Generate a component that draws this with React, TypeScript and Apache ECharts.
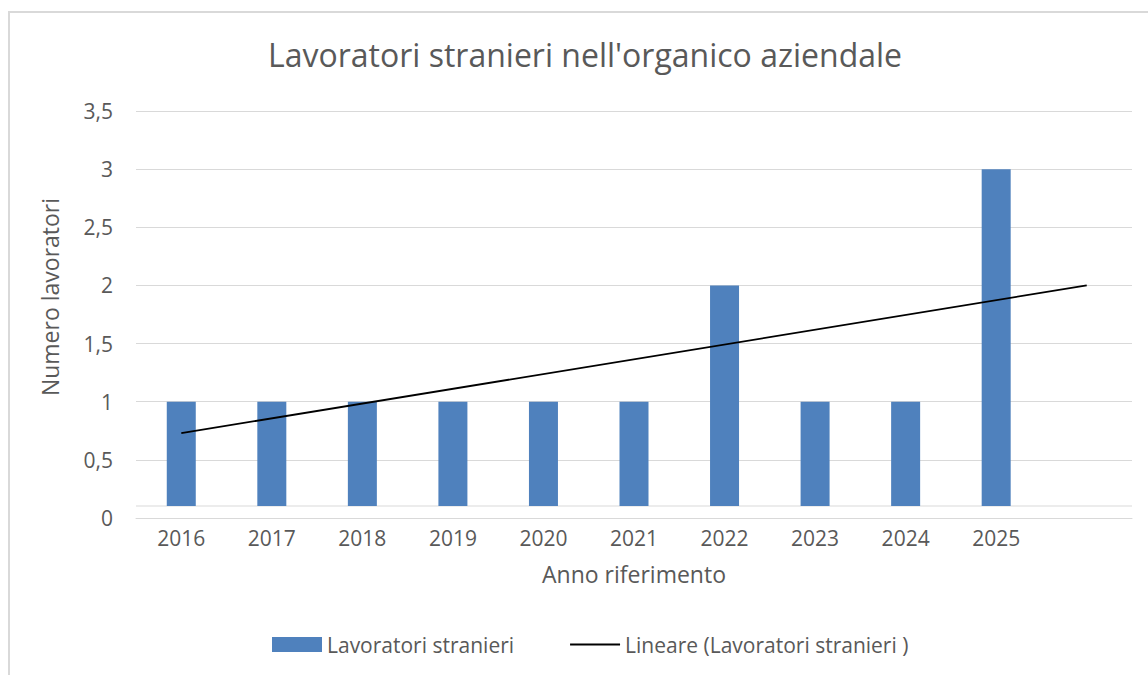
import React, { useEffect, useRef } from "react";
import * as echarts from "echarts";

const TITLE = "Lavoratori stranieri nell'organico aziendale";
const X_NAME = "Anno riferimento";
const Y_NAME = "Numero lavoratori";
const BAR_NAME = "Lavoratori stranieri";
const TREND_NAME = "Lineare (Lavoratori stranieri )";

// categories (last slot is the trend's forward period, no label)
const YEARS = ["2016", "2017", "2018", "2019", "2020", "2021", "2022", "2023", "2024", "2025", ""];
const WORKERS = [1, 1, 1, 1, 1, 1, 2, 1, 1, 3];
// linear trendline endpoints: [category index, value]
const TREND_POINTS: [number, number][] = [
  [0, 0.73],
  [10, 2.0],
];
const Y_MIN = 0;
const Y_MAX = 3.5;
const Y_STEP = 0.5;

const FONT = "'Open Sans', 'Noto Sans', sans-serif";
const GREY_TEXT = "#595959";
const GRID_LINE = "#d9d9d9";
const BAR_COLOR = "#4f81bd";
const BAR_WIDTH = 29;
const BAR_BASE_GAP = 12;

export default function App() {
  const ref = useRef<HTMLDivElement>(null);

  useEffect(() => {
    if (!ref.current) return;
    const chart = echarts.init(ref.current, undefined, { renderer: "svg" });

    const option: any = {
      animation: false,
      backgroundColor: "#ffffff",
      textStyle: { fontFamily: FONT },
      title: {
        text: TITLE,
        left: 580,
        top: 33,
        textAlign: "center",
        textStyle: { fontFamily: FONT, fontSize: 32, fontWeight: "normal", color: GREY_TEXT },
      },
      grid: { left: 136, right: 16, top: 111, bottom: 157, containLabel: false },
      legend: {
        left: 267,
        top: 629,
        itemWidth: 50,
        itemHeight: 15,
        itemGap: 55,
        textStyle: { fontFamily: FONT, fontSize: 21, color: GREY_TEXT },
        data: [
          { name: BAR_NAME, icon: "rect" },
          { name: TREND_NAME, itemStyle: { opacity: 0 }, lineStyle: { opacity: 1 } },
        ],
      },
      xAxis: {
        type: "category",
        data: YEARS,
        boundaryGap: true,
        name: X_NAME,
        nameLocation: "middle",
        nameGap: 44,
        nameTextStyle: { fontFamily: FONT, fontSize: 23, color: GREY_TEXT },
        axisLine: { show: true, lineStyle: { color: GRID_LINE, width: 1 } },
        axisTick: { show: false },
        axisLabel: { fontFamily: FONT, fontSize: 21, color: GREY_TEXT, margin: 9 },
        splitLine: { show: false },
      },
      yAxis: {
        type: "value",
        min: Y_MIN,
        max: Y_MAX,
        interval: Y_STEP,
        axisLine: { show: false },
        axisTick: { show: false },
        axisLabel: {
          fontFamily: FONT,
          fontSize: 21,
          color: GREY_TEXT,
          margin: 23,
          formatter: (v: number) => String(v).replace(".", ","),
        },
        splitLine: { show: true, lineStyle: { color: GRID_LINE, width: 1 } },
      },
      graphic: [
        {
          type: "rect",
          silent: true,
          shape: { x: 9, y: 12, width: 1200, height: 700 },
          style: { fill: "none", stroke: GRID_LINE, lineWidth: 2 },
          z: -10,
        },
        {
          type: "text",
          x: 50,
          y: 297,
          rotation: Math.PI / 2,
          style: {
            text: Y_NAME,
            fontFamily: FONT,
            fontSize: 23,
            fill: GREY_TEXT,
            align: "center",
            verticalAlign: "middle",
          },
        },
      ],
      series: [
        {
          name: BAR_NAME,
          type: "custom",
          itemStyle: { color: BAR_COLOR },
          encode: { x: 0, y: 1 },
          data: WORKERS.map((v, i) => [i, v]),
          renderItem: (params: any, api: any) => {
            const idx = api.value(0);
            const v = api.value(1);
            const top = api.coord([idx, v]);
            const base = api.coord([idx, 0]);
            const bottom = base[1] - BAR_BASE_GAP;
            const children: any[] = [];
            if (params.dataIndex === 0) {
              const cs = params.coordSys;
              children.push({
                type: "line",
                shape: { x1: cs.x, y1: bottom, x2: cs.x + cs.width, y2: bottom },
                style: { stroke: GRID_LINE, lineWidth: 1 },
              });
            }
            children.push({
              type: "rect",
              shape: { x: top[0] - BAR_WIDTH / 2, y: top[1], width: BAR_WIDTH, height: bottom - top[1] },
              style: { fill: api.visual("color") },
            });
            return { type: "group", children };
          },
          z: 2,
        },
        {
          name: TREND_NAME,
          type: "line",
          data: TREND_POINTS,
          symbol: "none",
          lineStyle: { color: "#000000", width: 1.75 },
          itemStyle: { color: "#000000" },
          z: 3,
        },
      ],
    };

    chart.setOption(option);
    return () => chart.dispose();
  }, []);

  return (
    <div
      ref={ref}
      style={{ position: "absolute", left: 0, top: 0, width: 1148, height: 675 }}
    />
  );
}
